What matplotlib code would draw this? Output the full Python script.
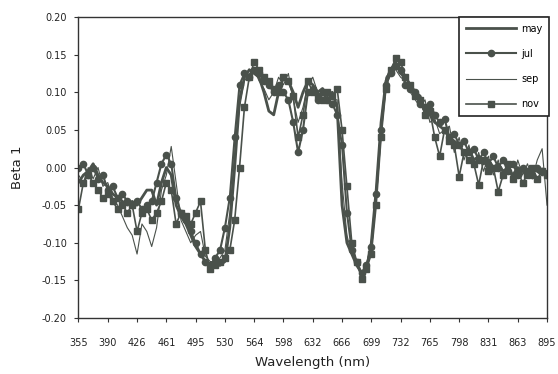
import matplotlib
matplotlib.use("Agg")
import matplotlib.pyplot as plt
import numpy as np

tick_labels = ["355", "390", "426", "461", "495", "530", "564", "598", "632",
               "666", "699", "732", "765", "798", "831", "863", "895"]

may = [-0.02, -0.01, -0.005, 0.005, -0.01, -0.02, -0.025, -0.035, -0.04, -0.045,
       -0.05, -0.045, -0.05, -0.04, -0.03, -0.03, -0.05, -0.02, 0.0, -0.01,
       -0.05, -0.065, -0.075, -0.09, -0.105, -0.115, -0.125, -0.13, -0.13, -0.13,
       -0.125, -0.08, 0.0, 0.09, 0.12, 0.13, 0.125, 0.12, 0.1, 0.075,
       0.07, 0.1, 0.12, 0.115, 0.1, 0.08, 0.1, 0.115, 0.11, 0.1,
       0.105, 0.095, 0.1, 0.08, -0.05, -0.1, -0.115, -0.13, -0.14, -0.135,
       -0.1, -0.03, 0.06, 0.115, 0.13, 0.14, 0.125, 0.12, 0.11, 0.1,
       0.095, 0.075, 0.07, 0.06, 0.055, 0.05, 0.04, 0.035, 0.03, 0.02,
       0.025, 0.01, 0.015, 0.005, 0.01, 0.0, 0.005, -0.005, 0.0, -0.01,
       0.0, -0.005, -0.01, 0.0, -0.005, -0.01, -0.005]

jul = [0.0, 0.005, -0.01, 0.0, -0.015, -0.01, -0.03, -0.025, -0.04, -0.035,
       -0.045, -0.05, -0.045, -0.055, -0.05, -0.045, -0.02, 0.005, 0.017, 0.005,
       -0.04, -0.06, -0.07, -0.085, -0.1, -0.115, -0.125, -0.13, -0.12, -0.11,
       -0.08, -0.04, 0.04, 0.11, 0.125, 0.12, 0.13, 0.125, 0.115, 0.11,
       0.1, 0.11, 0.1, 0.09, 0.06, 0.02, 0.05, 0.1, 0.105, 0.09,
       0.1, 0.09, 0.085, 0.07, 0.03, -0.06, -0.11, -0.125, -0.14, -0.13,
       -0.105, -0.035, 0.05, 0.11, 0.125, 0.135, 0.13, 0.11, 0.105, 0.1,
       0.085, 0.08, 0.085, 0.07, 0.06, 0.065, 0.04, 0.045, 0.03, 0.035,
       0.02, 0.025, 0.01, 0.02, 0.005, 0.015, 0.0, 0.01, -0.005, 0.005,
       -0.01, 0.0, -0.005, -0.01, 0.0, -0.005, -0.01]

sep = [-0.01, -0.02, 0.0, -0.015, 0.0, -0.025, -0.02, -0.04, -0.05, -0.065,
       -0.08, -0.09, -0.115, -0.075, -0.085, -0.105, -0.08, -0.03, -0.01, 0.028,
       -0.02, -0.07, -0.085, -0.1, -0.09, -0.085, -0.118, -0.125, -0.125, -0.12,
       -0.11, -0.06, 0.02, 0.08, 0.115, 0.125, 0.13, 0.115, 0.105, 0.09,
       0.1, 0.12, 0.11, 0.125, 0.09, 0.06, 0.08, 0.11, 0.12, 0.1,
       0.095, 0.1, 0.09, 0.09, -0.02, -0.09, -0.115, -0.13, -0.14, -0.13,
       -0.1, -0.03, 0.06, 0.12, 0.13, 0.13, 0.12, 0.115, 0.1, 0.09,
       0.08, 0.09, 0.06, 0.065, 0.045, 0.05, 0.055, 0.02, 0.04, 0.01,
       0.03, 0.0, 0.02, -0.005, 0.015, -0.01, 0.01, -0.015, 0.005, -0.02,
       0.01, -0.01, 0.005, -0.015, 0.01, 0.025, -0.05]

nov = [-0.055, -0.02, -0.01, -0.02, -0.03, -0.04, -0.035, -0.045, -0.055, -0.05,
       -0.06, -0.05, -0.085, -0.06, -0.055, -0.07, -0.06, -0.045, -0.02, -0.03,
       -0.075, -0.06, -0.065, -0.075, -0.06, -0.045, -0.11, -0.135, -0.13, -0.125,
       -0.12, -0.11, -0.07, 0.0, 0.08, 0.12, 0.14, 0.13, 0.12, 0.115,
       0.105, 0.1, 0.12, 0.115, 0.095, 0.04, 0.07, 0.115, 0.1, 0.095,
       0.09, 0.1, 0.095, 0.105, 0.05, -0.025, -0.1, -0.125, -0.148, -0.135,
       -0.115, -0.05, 0.04, 0.105, 0.13, 0.145, 0.14, 0.12, 0.11, 0.095,
       0.09, 0.07, 0.075, 0.04, 0.015, 0.05, 0.035, 0.03, -0.012, 0.02,
       0.01, 0.005, -0.023, 0.01, -0.005, 0.0, -0.032, -0.01, 0.005, -0.015,
       -0.005, -0.02, -0.01, 0.0, -0.015, -0.005, -0.01]

color = "#4a514b"
x = np.arange(len(may))

fig = plt.figure(figsize=(5.58, 3.74), dpi=100)
ax = fig.add_axes([0.1398, 0.1497, 0.8405, 0.8048])

ax.plot(x, may, color=color, lw=2.0, label="may")
ax.plot(x, jul, color=color, lw=1.5, marker="o", ms=4.5, label="jul")
ax.plot(x, sep, color=color, lw=0.8, label="sep")
ax.plot(x, nov, color=color, lw=1.2, marker="s", ms=5, label="nov")

ax.set_xlim(-0.1, 96)
ax.set_ylim(-0.2, 0.2)
ax.set_xticks(np.arange(0, 97, 6))
ax.set_xticklabels(tick_labels, fontsize=7, color="#222222")
yt = np.arange(-0.2, 0.2001, 0.05)
ax.set_yticks(yt)
ax.set_yticklabels([f"{v:.2f}".replace("-0.00", "0.00") for v in yt], fontsize=7, color="#222222")
ax.tick_params(axis="both", direction="out", length=3, width=0.8, color="#333333")
ax.tick_params(axis="y", pad=5)
ax.tick_params(axis="x", pad=11.5)
for s in ax.spines.values():
    s.set_color("#333333")
    s.set_linewidth(1.0)

ax.set_xlabel("Wavelength (nm)", fontsize=9.5, color="#222222", labelpad=5.5)
ax.set_ylabel("Beta 1", fontsize=9.5, color="#222222", labelpad=13)

leg = ax.legend(loc="upper right", bbox_to_anchor=(1.005, 1.0), borderaxespad=0,
                fontsize=7, handlelength=5.2, labelspacing=1.55, fancybox=False,
                edgecolor="#222222", framealpha=1, borderpad=0.7, handletextpad=0.5)
leg.get_frame().set_linewidth(1.2)

fig.savefig("out.png", dpi=100)
